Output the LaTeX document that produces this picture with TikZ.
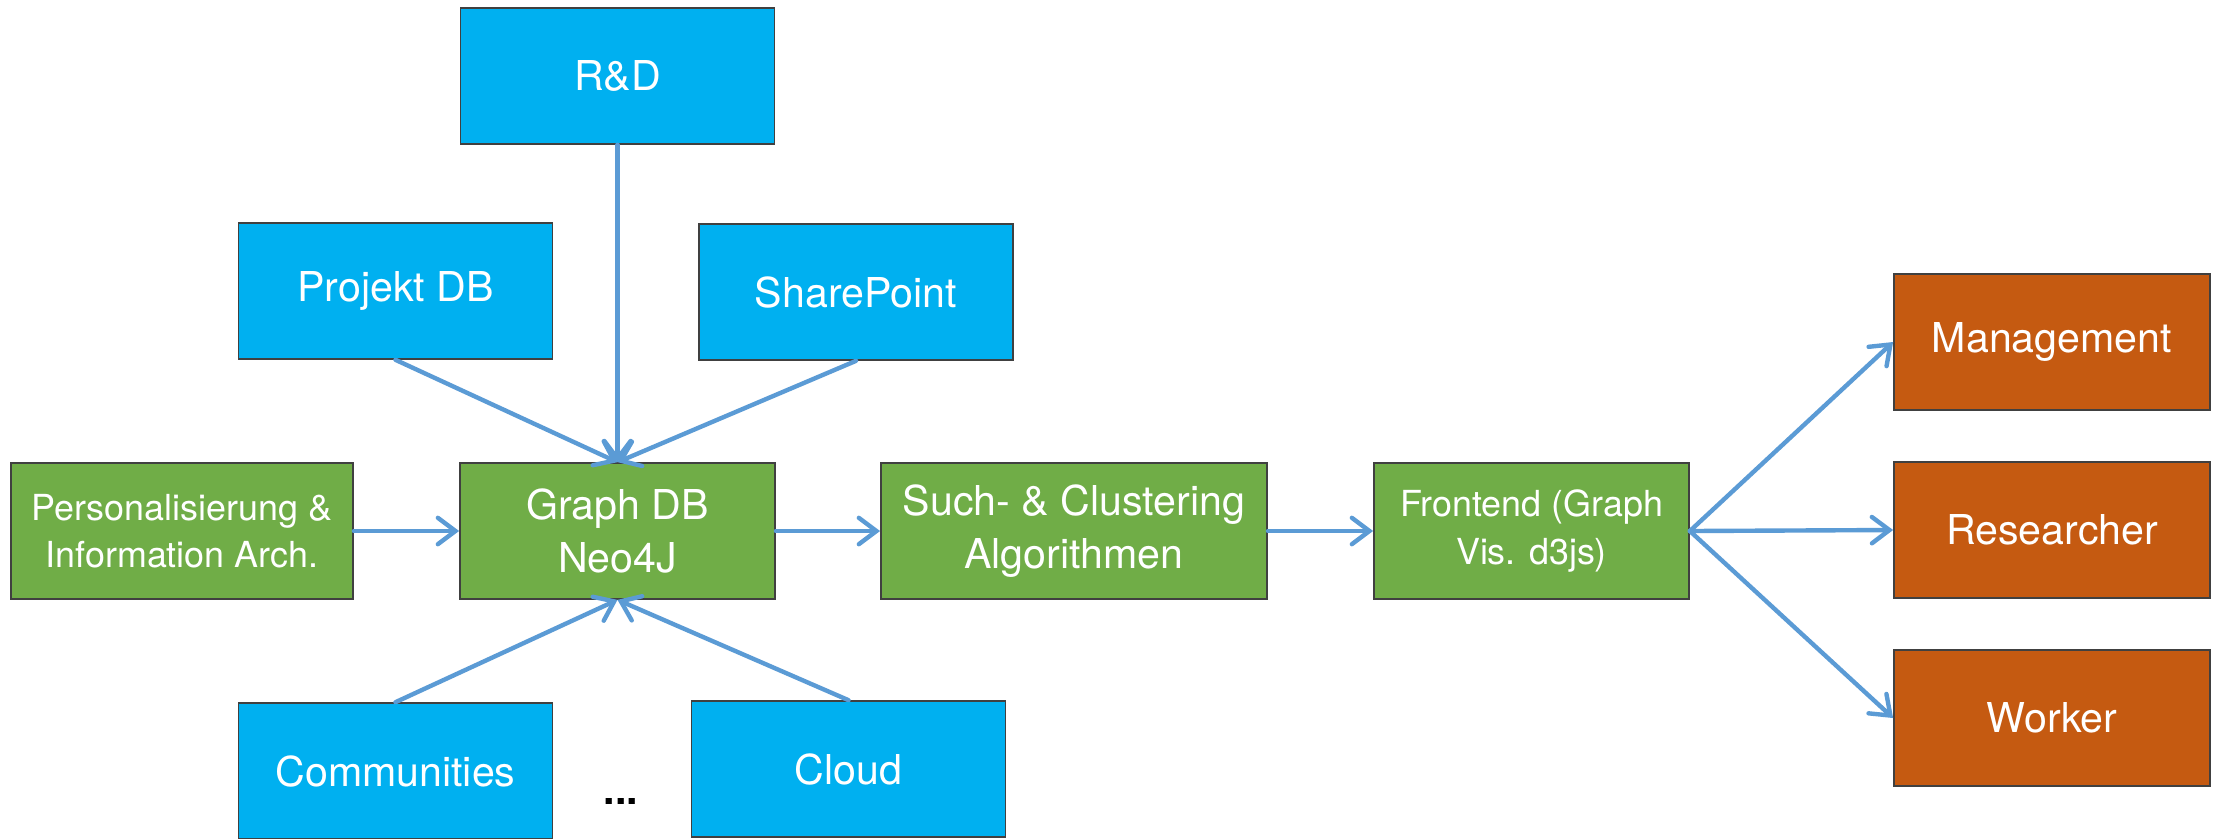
\documentclass[tikz,border=0pt]{standalone}
\usepackage{fontspec}
\setmainfont{TeX Gyre Heros}
\usetikzlibrary{arrows.meta}
\definecolor{cblue}{HTML}{00B0F0}
\definecolor{cgreen}{HTML}{70AD47}
\definecolor{corange}{HTML}{C55A11}
\definecolor{carrow}{HTML}{5B9BD5}
\definecolor{cborder}{HTML}{404040}
\begin{document}
\begin{tikzpicture}[x=0.01cm,y=-0.01cm,
 box/.style={draw=cborder, line width=0.45pt, text=white, align=center, inner sep=0pt,
   minimum height=1.36cm, font=\fontsize{11.7}{15.2}\selectfont},
 src/.style={box, fill=cblue, minimum width=3.14cm},
 proc/.style={box, fill=cgreen},
 user/.style={box, fill=corange, minimum width=3.16cm},
 small/.style={font=\fontsize{10.2}{13.4}\selectfont},
 conn/.style={draw=carrow, line width=1.25pt, line cap=round,
   -{Straight Barb[length=5pt,width=7.5pt,line cap=round]}}]
\useasboundingbox (0,0) rectangle (2214,838);
\fill[white] (0,0) rectangle (2214,838);

\node[src] (rd) at (617.5,76) {R\&D};
\node[src] (pdb) at (395.5,291) {Projekt DB};
\node[src] (sp) at (856,292) {SharePoint};
\node[proc, small, minimum width=3.42cm] (pers) at (182,531) {Personalisierung \&\\Information Arch.};
\node[proc, minimum width=3.15cm] (gdb) at (617.5,531) {Graph DB\\Neo4J};
\node[proc, minimum width=3.86cm] (such) at (1074,531) {Such- \& Clustering\\Algorithmen};
\node[proc, small, minimum width=3.15cm] (fe) at (1531.5,531) {Frontend (Graph\\Vis. d3js)};
\node[user] (mg) at (2052,342) {Management};
\node[user] (rs) at (2052,530) {Researcher};
\node[user] (wk) at (2052,718) {Worker};
\node[src] (com) at (395.5,771) {Communities};
\node[src] (cl) at (848.5,769) {Cloud};
\node[font=\fontsize{11.7}{14}\selectfont\bfseries] (dots) at (621,801) {...};

\draw[conn] (rd.south) -- (gdb.north);
\draw[conn] (pdb.south) -- (gdb.north);
\draw[conn] (sp.south) -- (gdb.north);
\draw[conn] (com.north) -- (gdb.south);
\draw[conn] (cl.north) -- (gdb.south);
\draw[conn] (pers.east) -- (gdb.west);
\draw[conn] (gdb.east) -- (such.west);
\draw[conn] (such.east) -- (fe.west);
\draw[conn] (fe.east) -- (mg.west);
\draw[conn] (fe.east) -- (rs.west);
\draw[conn] (fe.east) -- (wk.west);
\end{tikzpicture}
\end{document}
